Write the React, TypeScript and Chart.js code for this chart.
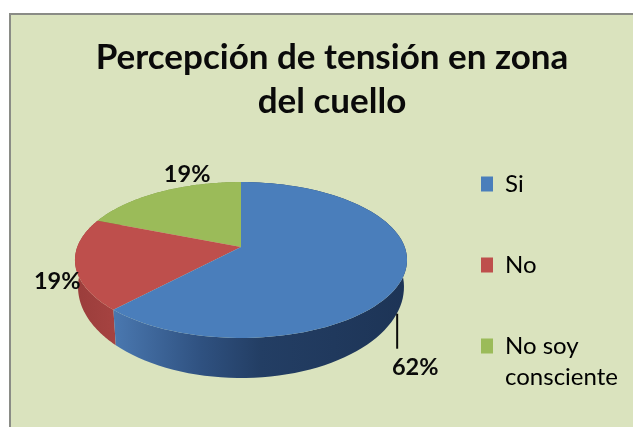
import React, { useEffect, useRef } from "react";
import { Chart, registerables } from "chart.js";

Chart.register(...registerables);

const categories = ["Si", "No", "No soy consciente"];
const legendText: (string | string[])[] = ["Si", "No", ["No soy", "consciente"]];
const values = [62, 19, 19];
const topColors = ["#4A7EBB", "#BE4F4C", "#9BBB59"];
const wallStops = [
  [[0, "#4A78B0"], [0.3, "#2F5180"], [0.5, "#233E64"], [1, "#1D3456"]],
  [[0, "#9A3D3B"], [1, "#A64341"]],
  [[0, "#7A9546"], [1, "#7A9546"]],
];
const titleLines = ["Percepción de tensión en zona", "del cuello"];
const labelOffsets = [[12, 91], [-18, 17], [27, -18]];
const leaderSpans = [[-54, -19], null, null];

const FONT = "Lato, Carlito, sans-serif";
const PERSPECTIVE = 0.1667;
const TOP = { rx: 1.331, ry: 0.616, dy: 0 };
const BOTTOM = { rx: 1.3065, ry: 0.7195, dy: 0.2016 };

function project(el: any, a: number, plane: typeof TOP) {
  const R = el.outerRadius;
  const w = 1 / (1 - PERSPECTIVE * Math.sin(a));
  return {
    x: el.x + plane.rx * R * Math.cos(a) * w,
    y: el.y + plane.dy * R + plane.ry * R * Math.sin(a) * w,
  };
}

function rim(el: any, plane: typeof TOP, reverse = false) {
  const n = 90;
  const pts = [];
  for (let i = 0; i <= n; i++) {
    const t = (reverse ? n - i : i) / n;
    pts.push(project(el, el.startAngle + (el.endAngle - el.startAngle) * t, plane));
  }
  return pts;
}

const pie3d = {
  id: "pie3d",
  beforeDraw(chart: any) {
    const { ctx, width, height } = chart;
    ctx.save();
    ctx.fillStyle = "#FFFFFF";
    ctx.fillRect(0, 0, width, height);
    ctx.fillStyle = "#DAE3BE";
    ctx.fillRect(10, 14, width - 10, height - 14);
    ctx.strokeStyle = "#8A8C86";
    ctx.lineWidth = 2;
    ctx.beginPath();
    ctx.moveTo(10, height);
    ctx.lineTo(10, 14);
    ctx.lineTo(width, 14);
    ctx.stroke();
    ctx.restore();
  },
  afterLayout(chart: any) {
    const l = chart.legend;
    const pad = l.options.labels.padding;
    l.left = 481 - pad;
    l.right = chart.width;
    l.top = 172 - pad;
    l.bottom = chart.height + 100;
  },
  beforeDatasetDraw(chart: any, args: any) {
    const { ctx } = chart;
    const els = args.meta.data;
    ctx.save();
    // walls, back slices first
    [2, 1, 0].forEach((i) => {
      const el = els[i];
      const pts = [...rim(el, TOP), ...rim(el, BOTTOM, true)];
      const xs = pts.map((p) => p.x);
      const x0 = Math.max(Math.min(...xs), 0);
      const x1 = Math.max(...xs);
      const g = ctx.createLinearGradient(x0, 0, x1, 0);
      wallStops[i].forEach((s: any) => g.addColorStop(s[0], s[1]));
      ctx.fillStyle = g;
      ctx.beginPath();
      pts.forEach((p, j) => (j ? ctx.lineTo(p.x, p.y) : ctx.moveTo(p.x, p.y)));
      ctx.closePath();
      ctx.fill();
    });
    // top faces
    [2, 1, 0].forEach((i) => {
      const el = els[i];
      const apex = project(el, 0, { rx: 0, ry: 0, dy: 0 });
      ctx.fillStyle = el.options.backgroundColor;
      ctx.beginPath();
      ctx.moveTo(apex.x, apex.y);
      rim(el, TOP).forEach((p) => ctx.lineTo(p.x, p.y));
      ctx.closePath();
      ctx.fill();
    });
    ctx.restore();
    return false;
  },
  afterDatasetsDraw(chart: any) {
    const { ctx } = chart;
    const els = chart.getDatasetMeta(0).data;
    ctx.save();
    ctx.font = `bold 23.5px ${FONT}`;
    ctx.fillStyle = "#0A0A0A";
    ctx.textAlign = "center";
    ctx.textBaseline = "middle";
    els.forEach((el: any, i: number) => {
      const p = project(el, (el.startAngle + el.endAngle) / 2, TOP);
      const lx = p.x + labelOffsets[i][0];
      const ly = p.y + labelOffsets[i][1];
      const span = leaderSpans[i];
      if (span) {
        ctx.strokeStyle = "#0A0A0A";
        ctx.lineWidth = 2;
        ctx.beginPath();
        ctx.moveTo(lx - 18, ly + span[0]);
        ctx.lineTo(lx - 18, ly + span[1]);
        ctx.stroke();
      }
      ctx.fillText(`${values[i]}%`, lx, ly);
    });
    ctx.restore();
  },
};

export default function App() {
  const ref = useRef<HTMLCanvasElement>(null);
  useEffect(() => {
    document.body.style.margin = "0";
    const chart = new Chart(ref.current!, {
      type: "pie",
      data: {
        labels: categories,
        datasets: [{ data: values, backgroundColor: topColors, borderWidth: 0 }],
      },
      options: {
        animation: false,
        responsive: false,
        events: [],
        layout: { padding: { left: 31, right: 0, top: 36, bottom: 57 } },
        plugins: {
          tooltip: { enabled: false },
          title: {
            display: true,
            text: titleLines,
            color: "#0A0A0A",
            padding: 0,
            font: { family: FONT, size: 35, weight: "bold", lineHeight: "44px" },
          },
          legend: {
            display: true,
            position: "right",
            align: "start",
            maxWidth: 182,
            labels: {
              boxWidth: 12,
              boxHeight: 15,
              padding: 57,
              color: "#111111",
              font: { family: FONT, size: 24, lineHeight: "31px" },
              generateLabels: (c: any) =>
                c.data.labels.map((_: string, i: number) => ({
                  text: legendText[i],
                  fillStyle: topColors[i],
                  strokeStyle: topColors[i],
                  lineWidth: 0,
                  index: i,
                })),
            },
          },
        },
      },
      plugins: [pie3d],
    } as any);
    return () => chart.destroy();
  }, []);
  return <canvas ref={ref} width={633} height={427} style={{ display: "block", filter: "blur(0.5px)" }} />;
}
